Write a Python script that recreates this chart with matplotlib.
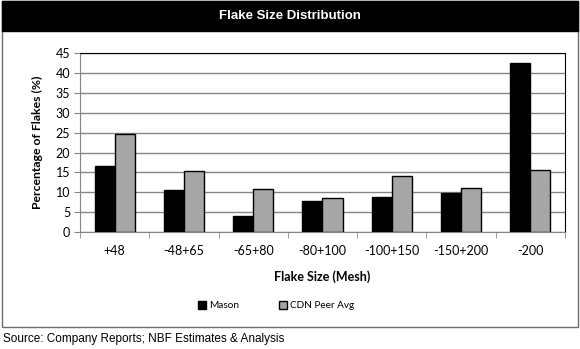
import matplotlib.pyplot as plt
import numpy as np
from matplotlib.patches import Rectangle

plt.rcParams['font.family'] = ['Lato', 'DejaVu Sans']

# data
categories = ['+48', '-48+65', '-65+80', '-80+100', '-100+150', '-150+200', '-200']
mason = [16.6, 10.5, 4.1, 7.9, 8.7, 9.7, 42.5]
peer_avg = [24.6, 15.3, 10.8, 8.5, 14.1, 11.0, 15.6]

fig = plt.figure(figsize=(5.8, 3.49), dpi=100)

# frame and black title band, kept behind the axes
fig.patches.append(Rectangle((0.004, 0.063), 0.992, 0.934, transform=fig.transFigure,
                             facecolor='white', edgecolor='#6e6e6e', linewidth=1.0,
                             zorder=-10))
fig.patches.append(Rectangle((0.004, 0.911), 0.992, 0.086, transform=fig.transFigure,
                             facecolor='black', edgecolor='black', linewidth=1.0,
                             zorder=-9))
fig.text(0.5, 0.954, 'Flake Size Distribution', color='white', fontsize=9.5,
         fontweight='bold', ha='center', va='center', family='Liberation Sans')

ax = fig.add_axes([0.138, 0.335, 0.836, 0.513])
x = np.arange(len(categories))
w = 0.29
ax.bar(x - w / 2, mason, width=w, color='black', edgecolor='black', linewidth=1.0,
       label='Mason', zorder=3)
ax.bar(x + w / 2, peer_avg, width=w, color='#a6a6a6', edgecolor='black', linewidth=1.0,
       label='CDN Peer Avg', zorder=3)

ax.set_xlim(-0.5, len(categories) - 0.5)
ax.set_ylim(0, 45)
ax.set_yticks(range(0, 46, 5))
ax.yaxis.grid(True, color='#868686', linewidth=1.0, zorder=0)

# category labels centred, ticks between categories
ax.set_xticks(x)
ax.set_xticklabels(categories)
ax.set_xticks(np.arange(-0.5, len(categories), 1.0), minor=True)
ax.tick_params(axis='x', which='major', length=0, labelsize=9, pad=9)
ax.tick_params(axis='x', which='minor', length=4, color='#868686')
ax.tick_params(axis='y', length=4, color='#868686', labelsize=9, pad=3)

for side in ['left', 'bottom']:
    ax.spines[side].set_color('#868686')
for side in ['top', 'right']:
    ax.spines[side].set_color('black')

ax.set_ylabel('Percentage of Flakes (%)', fontsize=8.8, fontweight='bold', labelpad=9)
ax.set_xlabel('Flake Size (Mesh)', fontsize=9, fontweight='bold', labelpad=10)

ax.legend(loc='upper center', bbox_to_anchor=(0.405, -0.335), ncol=2, frameon=False,
          fontsize=7.2, handlelength=0.8, handleheight=0.8, columnspacing=4.0,
          handletextpad=0.3)

fig.text(0.005, 0.03, 'Source: Company Reports; NBF Estimates & Analysis', fontsize=8.5,
         ha='left', va='center', family='Liberation Sans')

fig.savefig('out.png', dpi=100)
